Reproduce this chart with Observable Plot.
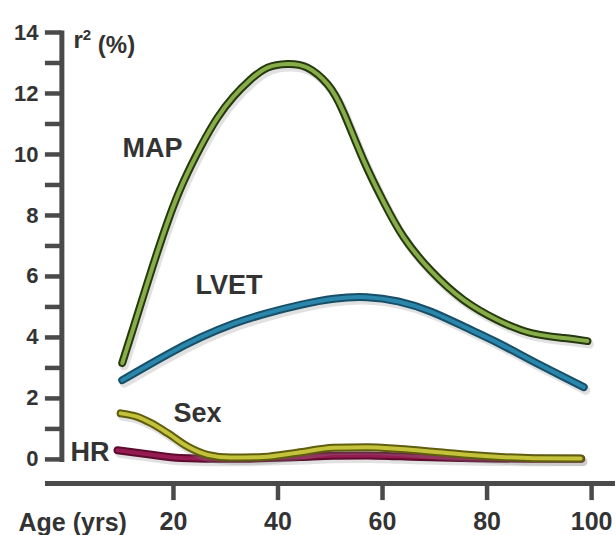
<!DOCTYPE html>
<html><head><meta charset="utf-8">
<script src="https://cdn.jsdelivr.net/npm/d3@7"></script>
<script src="https://cdn.jsdelivr.net/npm/@observablehq/plot@0.6"></script>
<style>
body{margin:0;background:#fff;}
#chart{width:616px;height:535px;}
</style>
</head><body><div id="chart"></div>
<script>
// ---- data ----
const mapAge = [10.2, 12.3, 15.6, 18.9, 21.9, 25.2, 28.4, 31.5, 34.7, 38.0, 41.8, 45.6, 49.5, 52.5, 56.4, 60.2, 64.0, 69.2, 75.5, 82.0, 88.3, 94.7, 99.2];
const mapR2  = [3.16, 4.3, 6.1, 7.8, 9.1, 10.25, 11.2, 11.9, 12.45, 12.85, 12.97, 12.85, 12.3, 11.4, 9.8, 8.45, 7.3, 6.2, 5.23, 4.57, 4.15, 3.98, 3.88];

const lvetAge = [10.2, 18.9, 25.2, 31.5, 38.0, 44.3, 50.7, 57.0, 63.0, 69.2, 75.5, 82.0, 88.3, 94.7, 98.5];
const lvetR2  = [2.6, 3.45, 4.0, 4.45, 4.8, 5.07, 5.27, 5.32, 5.18, 4.85, 4.36, 3.83, 3.26, 2.7, 2.37];

const sexAge = [9.9, 13.0, 15.6, 18.9, 22.7, 26.5, 30.9, 37.2, 43.7, 50.6, 57.1, 63.4, 69.7, 76.3, 82.6, 88.9, 97.9];
const sexR2  = [1.51, 1.4, 1.2, 0.86, 0.42, 0.15, 0.06, 0.08, 0.22, 0.38, 0.4, 0.34, 0.25, 0.15, 0.08, 0.04, 0.03];

const hrAge = [9.3, 15.1, 21.4, 31.0, 44.3, 50.6, 57.1, 63.4, 75.0, 90.0, 98.0];
const hrR2  = [0.3, 0.17, 0.05, 0.02, 0.08, 0.12, 0.13, 0.1, 0.05, 0.02, 0.02];

const seriesNames = ["HR", "Sex", "LVET", "MAP"];
const labelAge   = [0.3, 20.0, 24.2, 10.25];
const labelR2    = [0.23, 1.5, 5.7, 10.2];

const xTicks = [20, 40, 60, 80, 100];
const yMajor = [0, 2, 4, 6, 8, 10, 12, 14];
const yMinor = [1, 3, 5, 7, 9, 11, 13];

// ---- styles / layout constants ----
const outer = {HR: "#5e0b2e", Sex: "#5f5d0e", LVET: "#174f68", MAP: "#26380f"};
const inner = {HR: "#951b52", Sex: "#c3c23a", LVET: "#2a86aa", MAP: "#86ad48"};
const curves = {HR: "monotone-x", Sex: "monotone-x", LVET: "natural", MAP: "natural"};
const axisGray = "#4a4a4a";

const xDomain = [-4.1, 104];
const yDomain = [-0.79, 14];
const yAxisAge = -1.35;        // where the vertical axis line sits
const yTickLeftAge = -4.5;     // left end of the y ticks
const xTickBottom = -1.35;     // lower end of the x ticks (y units)

const pts = name => {
  const [a, v] = {HR: [hrAge, hrR2], Sex: [sexAge, sexR2], LVET: [lvetAge, lvetR2], MAP: [mapAge, mapR2]}[name];
  return a.map((x, i) => ({age: x, r2: v[i], s: name}));
};
const labels = seriesNames.map((n, i) => ({name: n, age: labelAge[i], r2: labelR2[i]}));

const font = "'Liberation Sans', Arial, Helvetica, sans-serif";

const lineMarks = seriesNames.flatMap(n => {
  const d = pts(n);
  const c = curves[n];
  return [
    Plot.line(d, {x: "age", y: "r2", curve: c, stroke: "#888", strokeOpacity: 0.25, strokeWidth: 9, dx: 2, dy: 3, strokeLinecap: "round"}),
    Plot.line(d, {x: "age", y: "r2", curve: c, stroke: outer[n], strokeWidth: 8, strokeLinecap: "round"}),
    Plot.line(d, {x: "age", y: "r2", curve: c, stroke: inner[n], strokeWidth: 4, strokeLinecap: "round"})
  ];
});

const plot = Plot.plot({
  width: 616, height: 535,
  marginLeft: 47, marginRight: 4, marginTop: 32, marginBottom: 52,
  x: {domain: xDomain},
  y: {domain: yDomain},
  style: {fontFamily: font, background: "#fff", overflow: "visible"},
  marks: [
    Plot.frame({anchor: "bottom", stroke: axisGray, strokeWidth: 5}),
    Plot.ruleX(xTicks, {x: d => d, y1: yDomain[0], y2: xTickBottom, stroke: axisGray, strokeWidth: 4.5}),
    Plot.axisX({ticks: xTicks, tickSize: 0, tickPadding: 29, fontSize: 25, fontWeight: "bold", fill: "#333", label: null}),
    Plot.ruleX([yAxisAge], {y1: -0.1, y2: 14.05, stroke: axisGray, strokeWidth: 5}),
    Plot.ruleY(yMajor.concat(yMinor), {y: d => d, x1: yTickLeftAge, x2: yAxisAge, stroke: axisGray, strokeWidth: 4.5}),
    Plot.axisY({anchor: "left", ticks: yMajor, tickSize: 0, tickPadding: 23, dx: 14, fontSize: 22, fontWeight: "bold", fill: "#333", label: null}),
    Plot.text(["r2 (%)"], {frameAnchor: "top-left", dx: 26, dy: 8, textAnchor: "start", lineAnchor: "middle", fontSize: 24, fontWeight: "bold", fill: "#333"}),
    Plot.text(["Age (yrs)"], {frameAnchor: "bottom-left", dx: -29, dy: 39, textAnchor: "start", lineAnchor: "middle", fontSize: 25, fontWeight: "bold", fill: "#333"}),
    ...lineMarks,
    Plot.text(labels, {x: "age", y: "r2", text: "name", textAnchor: "start", lineAnchor: "middle", fontSize: 27, fontWeight: "bold", fill: "#333"})
  ]
});

// superscript 2 in the y label
d3.select(plot).selectAll("text").each(function() {
  const t = d3.select(this);
  if (t.text() === "r2 (%)") {
    t.text("");
    t.append("tspan").text("r");
    t.append("tspan").text("2").attr("font-size", 15).attr("dy", "-0.55em");
    t.append("tspan").text(" (%)").attr("dy", "0.55em").attr("font-size", 24);
  }
});

document.getElementById("chart").append(plot);
</script>
</body></html>
